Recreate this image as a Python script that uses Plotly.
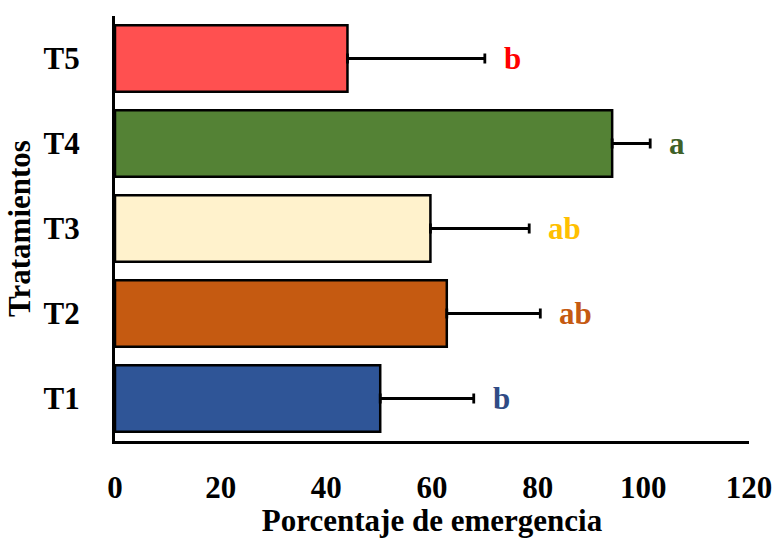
import plotly.graph_objects as go

categories = ["T1", "T2", "T3", "T4", "T5"]
values = [50.2, 62.8, 59.7, 94.1, 44.0]
errors = [17.7, 17.7, 18.7, 7.2, 26.0]
letters = ["b", "ab", "ab", "a", "b"]
bar_colors = ["#2F5597", "#C55A11", "#FFF2CC", "#548235", "#FF5050"]
letter_colors = ["#2F4B85", "#C55A11", "#FFC000", "#3F6128", "#FF0000"]
x_ticks = [0, 20, 40, 60, 80, 100, 120]

FONT = "Liberation Serif, Times New Roman, serif"

fig = go.Figure()
fig.add_trace(go.Bar(
    y=categories,
    x=values,
    orientation="h",
    marker=dict(color=bar_colors, line=dict(color="black", width=2.5)),
    width=0.78,
    error_x=dict(type="data", array=errors, arrayminus=[0] * len(errors),
                 symmetric=False, color="black", thickness=2.8, width=5),
    showlegend=False,
))

for c, v, e, t, col in zip(categories, values, errors, letters, letter_colors):
    fig.add_annotation(x=v + e, y=c, text=t, showarrow=False,
                       xanchor="left", yanchor="middle", xshift=17,
                       font=dict(family=FONT, size=31, color=col, weight="bold"))

fig.update_layout(
    width=776, height=538,
    margin=dict(l=115, r=27, t=16, b=97),
    plot_bgcolor="white", paper_bgcolor="white",
    font=dict(family=FONT, size=30, color="black", weight="bold"),
    xaxis=dict(
        range=[0, 120], tickvals=x_ticks, ticks="", showgrid=False, zeroline=False,
        showline=True, linecolor="black", linewidth=3, automargin=False,
        tickfont=dict(family=FONT, size=31, color="black", weight="bold"),
        ticklabelstandoff=17,
        title=dict(text="Tratamientos" if False else "Porcentaje de emergencia", standoff=6,
                   font=dict(family=FONT, size=31, color="black", weight="bold")),
    ),
    yaxis=dict(
        categoryorder="array", categoryarray=categories, range=[-0.5, 4.5],
        ticks="", showgrid=False, zeroline=False,
        showline=True, linecolor="black", linewidth=3, automargin=False,
        tickfont=dict(family=FONT, size=31, color="black", weight="bold"),
        ticklabelstandoff=26,
        title=dict(text="Tratamientos", standoff=4,
                   font=dict(family=FONT, size=31, color="black", weight="bold")),
    ),
)

fig.write_html(
    "out.html",
    config={"displayModeBar": False},
    post_script="document.body.style.margin='0';document.body.style.overflow='hidden';",
)
